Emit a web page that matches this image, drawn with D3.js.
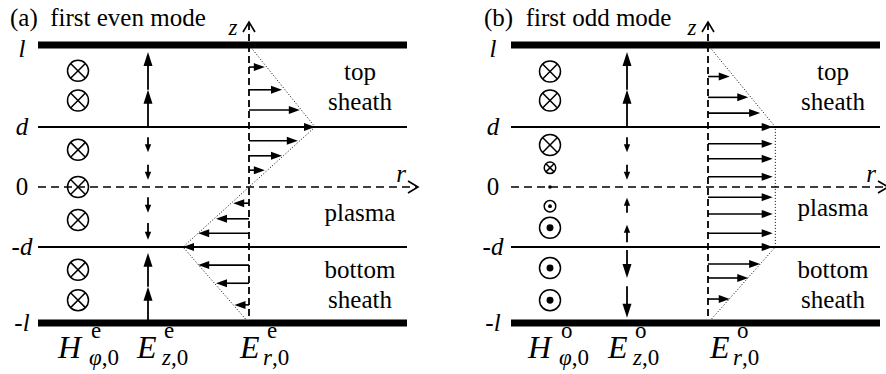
<!DOCTYPE html>
<html><head><meta charset="utf-8">
<script src="https://cdn.jsdelivr.net/npm/d3@7"></script>
</head><body style="margin:0">
<svg id="fig" width="886" height="374"></svg>
<script>
// z measured in units of d; the metal plates sit at z = +/- l
const L = 2.3;
const levelZ = [L, 1, 0, -1, -L];
const levelNames = ["l", "d", "0", "-d", "-l"];

const titles = ["(a)  first even mode", "(b)  first odd mode"];
const modeTags = ["e", "o"];

// H_phi markers: z position and signed amplitude (+ into the page, - out of it)
const hEvenZ = [1.89, 1.42, 0.62, 0, -0.55, -1.39, -1.91];
const hEvenVal = [1, 1, 1, 1, 1, 1, 1];
const hOddZ = [1.88, 1.42, 0.70, 0.32, 0, -0.32, -0.68, -1.36, -1.91];
const hOddVal = [1, 1, 1, 0.55, 0, -0.55, -1, -1, -1];

// E_z arrows: start and tip, in z units
const ezEvenFrom = [1, 1.59, 0.83, 0.37, -0.17, -0.60, -L, -1.68];
const ezEvenTo = [1.59, 2.19, 0.58, 0.12, -0.43, -0.88, -1.68, -1.10];
const ezOddFrom = [1, 1.59, 0.83, 0.37, -0.43, -0.92, -1.05, -1.67];
const ezOddTo = [1.59, 2.19, 0.58, 0.12, -0.18, -0.63, -1.53, -2.21];

// E_r arrows: height and normalised amplitude
const erEvenZ = [1.95, 1.59, 1.27, 1, 0.77, 0.52, 0.28, -0.27, -0.53, -0.77, -1, -1.31, -1.62, -1.99];
const erEvenVal = [0.24, 0.50, 0.77, 1, 0.74, 0.50, 0.24, -0.24, -0.50, -0.77, -1, -0.77, -0.50, -0.22];
const erOddZ = [1.80, 1.47, 1.22, 1, 0.72, 0.47, 0.17, -0.17, -0.45, -0.77, -1, -1.29, -1.53, -1.89];
const erOddVal = [0.33, 0.61, 0.79, 0.98, 0.98, 0.98, 0.98, 0.98, 0.98, 0.98, 0.98, 0.79, 0.61, 0.33];

// dotted E_r envelopes
const envEvenZ = [L, 1, 0, -1, -L];
const envEvenVal = [0, 1, 0, -1, 0];
const envOddZ = [L, 1, -1, -L];
const envOddVal = [0, 1.02, 1.02, 0];

const panels = [
  { x0: 38, title: titles[0], tag: modeTags[0],
    hZ: hEvenZ, hV: hEvenVal, ezFrom: ezEvenFrom, ezTo: ezEvenTo,
    erZ: erEvenZ, erV: erEvenVal, envZ: envEvenZ, envV: envEvenVal,
    hX: 40, ezX: 110, axisX: 211, rEnd: 380, plasmaY: 221,
    labelX: -16, titleX: -28, symX: [20, 99, 202] },
  { x0: 511, title: titles[1], tag: modeTags[1],
    hZ: hOddZ, hV: hOddVal, ezFrom: ezOddFrom, ezTo: ezOddTo,
    erZ: erOddZ, erV: erOddVal, envZ: envOddZ, envV: envOddVal,
    hX: 39, ezX: 116, axisX: 197, rEnd: 377, plasmaY: 216,
    labelX: -18, titleX: -27, symX: [17, 97, 199] }
];

const W = 369;
const svg = d3.select("#fig");
const z = d3.scaleLinear().domain([-L, -1, 0, 1, L]).range([323, 247, 187, 127, 45]);

function arrow(g, x1, y1, x2, y2, hl, hw, sw) {
  const dx = x2 - x1, dy = y2 - y1, len = Math.hypot(dx, dy);
  if (len < 0.5) return;
  const ux = dx / len, uy = dy / len;
  const bx = x2 - ux * hl, by = y2 - uy * hl;
  g.append("line").attr("x1", x1).attr("y1", y1)
    .attr("x2", bx + ux).attr("y2", by + uy)
    .attr("stroke", "#000").attr("stroke-width", sw);
  g.append("path")
    .attr("d", `M${x2},${y2}L${bx - uy * hw},${by + ux * hw}L${bx + uy * hw},${by - ux * hw}Z`)
    .attr("fill", "#000");
}

function label(g, x, y, size) {
  return g.append("text").attr("x", x).attr("y", y).attr("font-size", size)
    .style("font-family", '"Liberation Serif"');
}

panels.forEach(p => {
  const g = svg.append("g").attr("transform", `translate(${p.x0},0)`);
  const er = d3.scaleLinear().domain([-1, 1]).range([p.axisX - 66, p.axisX + 66]);

  // title
  label(g, p.titleX, 26, 25).style("white-space", "pre").text(p.title);

  // plates, sheath edges and the r axis
  levelZ.forEach((v, i) => {
    const y = z(v);
    if (Math.abs(v) === L) {
      g.append("line").attr("x1", 0).attr("x2", W).attr("y1", y).attr("y2", y)
        .attr("stroke", "#000").attr("stroke-width", 7);
    } else if (v !== 0) {
      g.append("line").attr("x1", 0).attr("x2", W).attr("y1", y).attr("y2", y)
        .attr("stroke", "#000").attr("stroke-width", 2);
    } else {
      g.append("line").attr("x1", 0).attr("x2", p.rEnd).attr("y1", y).attr("y2", y)
        .attr("stroke", "#000").attr("stroke-width", 1.6).attr("stroke-dasharray", "8,5");
      g.append("path").attr("d", `M${p.rEnd - 10},${y - 6}L${p.rEnd},${y}L${p.rEnd - 10},${y + 6}`)
        .attr("fill", "none").attr("stroke", "#000").attr("stroke-width", 1.6);
      label(g, p.rEnd - 17, 182, 25).attr("text-anchor", "middle")
        .style("font-style", "italic").text("r");
    }
    const name = levelNames[i];
    const t = label(g, p.labelX, y + 8 + (Math.abs(v) === L && v > 0 ? 4 : 0), 25)
      .attr("text-anchor", "middle");
    if (name.startsWith("-")) {
      t.append("tspan").text("-");
      t.append("tspan").style("font-style", "italic").text(name.slice(1));
    } else if (name === "0") {
      t.text(name);
    } else {
      t.style("font-style", "italic").text(name);
    }
  });

  // z axis
  g.append("line").attr("x1", p.axisX).attr("x2", p.axisX).attr("y1", 23).attr("y2", z(-L))
    .attr("stroke", "#000").attr("stroke-width", 1.8).attr("stroke-dasharray", "7,4");
  g.append("path").attr("d", `M${p.axisX - 6},${32}L${p.axisX},${22}L${p.axisX + 6},${32}`)
    .attr("fill", "none").attr("stroke", "#000").attr("stroke-width", 1.6);
  label(g, p.axisX - 16, 35, 23).attr("text-anchor", "middle")
    .style("font-style", "italic").text("z");

  // region names
  const tx = 322;
  [["top", 80], ["sheath", 110], ["plasma", p.plasmaY], ["bottom", 278], ["sheath", 308]]
    .forEach(([s, y]) => label(g, tx, y, 25).attr("text-anchor", "middle").text(s));

  // E_r envelope
  const env = d3.line().x(d => er(d[1])).y(d => z(d[0]));
  g.append("path").attr("d", env(p.envZ.map((v, i) => [v, p.envV[i]])))
    .attr("fill", "none").attr("stroke", "#000").attr("stroke-width", 1)
    .attr("stroke-dasharray", "1,2");

  // E_r arrows
  p.erZ.forEach((v, i) => {
    const y = z(v);
    arrow(g, p.axisX, y, er(p.erV[i]), y, 11, 4, 1.6);
  });

  // E_z arrows
  p.ezFrom.forEach((v, i) => {
    const y1 = z(v), y2 = z(p.ezTo[i]);
    const big = Math.abs(y2 - y1) > 22;
    arrow(g, p.ezX, y1, p.ezX, y2, big ? 14 : 8, big ? 4.5 : 3.2, 1.8);
  });

  // H_phi markers
  p.hZ.forEach((v, i) => {
    const y = z(v), a = p.hV[i];
    if (a === 0) {
      g.append("circle").attr("cx", p.hX).attr("cy", y).attr("r", 1.8).attr("fill", "#000");
      return;
    }
    const r = 10.5 * Math.abs(a);
    g.append("circle").attr("cx", p.hX).attr("cy", y).attr("r", r)
      .attr("fill", "none").attr("stroke", "#000").attr("stroke-width", 1.5);
    if (a > 0) {
      const k = r * 0.707;
      g.append("path").attr("d", `M${p.hX - k},${y - k}L${p.hX + k},${y + k}M${p.hX - k},${y + k}L${p.hX + k},${y - k}`)
        .attr("stroke", "#000").attr("stroke-width", 1.5);
    } else {
      g.append("circle").attr("cx", p.hX).attr("cy", y).attr("r", Math.max(1.3, r * 0.33)).attr("fill", "#000");
    }
  });

  // field component symbols under the panel (base letter, superscript, subscript offsets)
  const syms = [["H", "\u03c6,0", 33, 31], ["E", "z,0", 27, 25], ["E", "r,0", 27, 23]];
  syms.forEach(([b, sub, supDx, subDx], i) => {
    const x = p.symX[i];
    label(g, x, 358, 32).style("font-style", "italic").text(b);
    label(g, x + supDx, 338, 23).text(p.tag);
    const s = label(g, x + subDx, 365, 23);
    const parts = sub.split(",");
    s.append("tspan").style("font-style", "italic").text(parts[0]);
    s.append("tspan").text("," + parts[1]);
  });
});
</script>
</body></html>
